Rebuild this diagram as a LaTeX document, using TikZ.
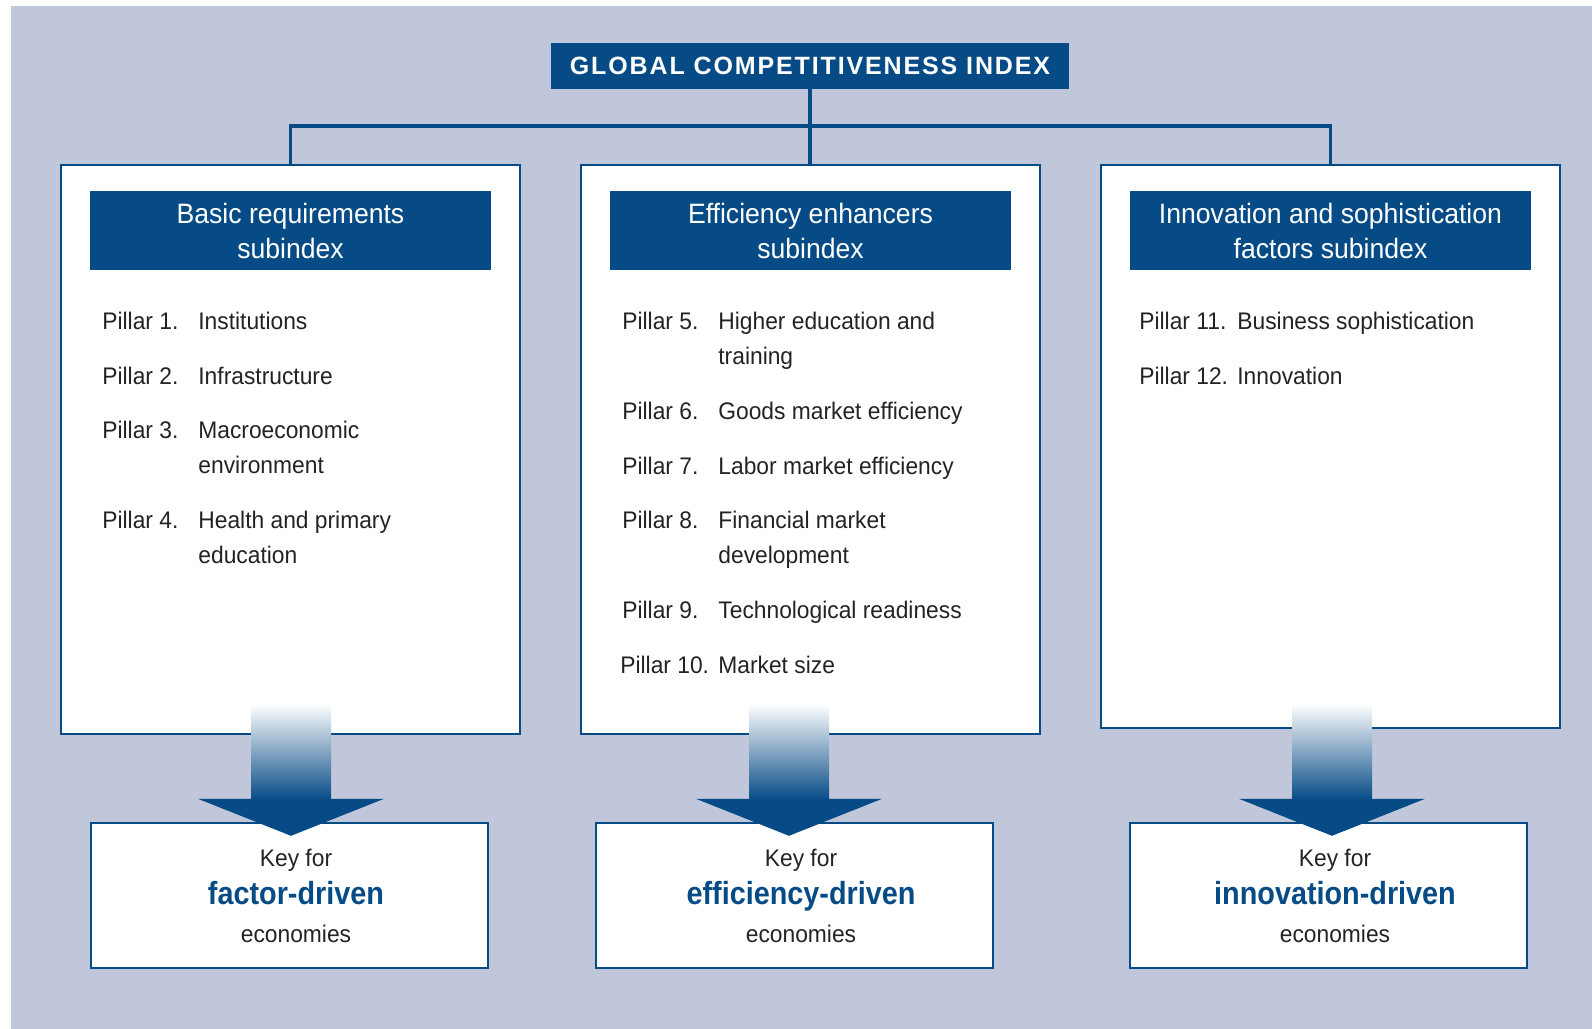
\documentclass[tikz,border=0pt]{standalone}
\usepackage{fontspec}
\setmainfont{Liberation Sans}[FakeStretch=0.95]
\newfontfamily\titlefont{Liberation Sans}[LetterSpace=7.5]
\newfontfamily\keyfont{Liberation Sans}[FakeStretch=0.9]
\usetikzlibrary{positioning}

\definecolor{gciblue}{HTML}{064B86}
\definecolor{gcibg}{HTML}{C0C7DA}
\definecolor{gcimid}{RGB}{125,142,182}
\definecolor{gcitext}{HTML}{232323}

\newcommand{\keydriver}[1]{{\keyfont\bfseries\fontsize{16}{19}\selectfont\color{gciblue}#1}}
% text of a key box, set a little right of centre
\newcommand{\keytext}[1]{\hspace*{6.5pt}Key for\\\hspace*{6.5pt}\keydriver{#1}\\\hspace*{6.5pt}economies}
% pillar names may run over two lines, first baseline on top
\newcommand{\pillartext}[1]{\begin{tabular}[t]{@{}l@{}}#1\end{tabular}}

\tikzset{
    bigarrow/.pic={
        \shade[top color=white, middle color=gcimid, bottom color=gciblue]
            (-40,-118) rectangle (40,-22);
        \fill[gciblue] (-93,-23) -- (93,-23) -- (0,14) -- cycle;
    }
}

\begin{document}
\begin{tikzpicture}[x=0.5pt, y=-0.5pt,
        font=\fontsize{12}{17.5}\selectfont, text=gcitext,
        subindex/.style={draw=gciblue, line width=1.2pt, fill=white,
            minimum width=229.5pt, inner sep=0pt, outer sep=0pt},
        header/.style={fill=gciblue, text=white, minimum width=200.5pt,
            minimum height=39.5pt, inner sep=0pt, align=center,
            font=\fontsize{14}{17.75}\selectfont},
        pillar/.style={anchor=base west, inner sep=0pt},
        keybox/.style={draw=gciblue, line width=1.2pt, fill=white,
            minimum width=198.5pt, minimum height=72.5pt, align=center,
            font=\fontsize{12}{19}\selectfont},
        link/.style={draw=gciblue, line width=1.6pt}]

    % backdrop
    \fill[gcibg] (11,6) rectangle (1592,1029);
    \useasboundingbox (0,0) rectangle (1592,1029);

    % index on top
    \node[fill=gciblue, text=white, minimum width=259pt, minimum height=23pt,
          inner sep=0pt, font=\titlefont\bfseries\fontsize{12.5}{15}\selectfont]
          (gci) at (810,66) {GLOBAL COMPETITIVENESS INDEX};

    % the three subindex boxes
    \node[subindex, minimum height=284.5pt] (basic) at (290.5,449.5) {};
    \node[subindex, minimum height=284.5pt, right=30.5pt of basic] (effic) {};
    \node[subindex, minimum height=281.5pt, anchor=north west]
          (innov) at ([xshift=30.5pt]effic.north east) {};

    \node[header, below=13pt of basic.north] (basichead) {Basic requirements\\subindex};
    \node[header, below=13pt of effic.north] (effichead) {Efficiency enhancers\\subindex};
    \node[header, below=13pt of innov.north] (innovhead) {Innovation and sophistication\\factors subindex};

    % tree from the index down to the subindexes
    \coordinate (bus) at (810,126);
    \draw[link] (gci.south) -- (gci.south |- effic.north);
    \draw[link] (basic.north) |- (bus) -| (innov.north);

    % pillars
    \foreach \n/\txt/\y in {1/Institutions/329, 2/Infrastructure/384,
            3/{Macroeconomic\\environment}/438, 4/{Health and primary\\education}/528}{
        \node[pillar] (pl\n) at (102,\y) {Pillar \n.};
        \node[pillar] (pt\n) at (198,\y) {\pillartext{\txt}};
    }
    \foreach \n/\txt/\y in {5/{Higher education and\\training}/329,
            6/Goods market efficiency/419, 7/Labor market efficiency/474,
            8/{Financial market\\development}/528, 9/Technological readiness/618}{
        \node[pillar] (pl\n) at (622,\y) {Pillar \n.};
        \node[pillar] (pt\n) at (718,\y) {\pillartext{\txt}};
    }
    \node[pillar] (pl10) at (620,673) {Pillar 10.};
    \node[pillar] (pt10) at (718,673) {Market size};
    \foreach \n/\txt/\y in {11/Business sophistication/329, 12/Innovation/384}{
        \node[pillar] (pl\n) at (1139,\y) {Pillar \n.};
        \node[pillar] (pt\n) at (1237,\y) {\txt};
    }

    % key boxes
    \node[keybox] (keyfactor) at (289.5,895.5) {\keytext{factor-driven}};
    \node[keybox] (keyeff) at (794.5,895.5) {\keytext{efficiency-driven}};
    \node[keybox] (keyinno) at (1328.5,895.5) {\keytext{innovation-driven}};

    % fat arrows into the keys
    \foreach \k/\dx in {keyfactor/1.5, keyeff/-5.5, keyinno/3.5}
        \pic at ([xshift=\dx*0.5pt]\k.north) {bigarrow};
\end{tikzpicture}
\end{document}
